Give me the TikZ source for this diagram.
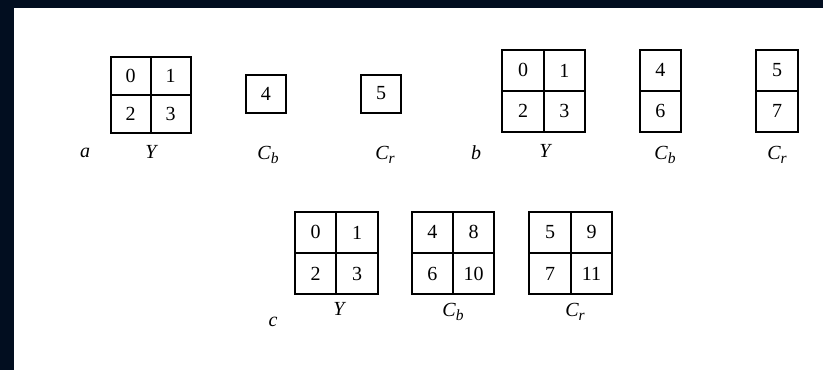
\documentclass[tikz,border=0pt]{standalone}
\usepackage{fontspec}
\setmainfont{Liberation Serif}
\definecolor{frame}{RGB}{2,14,32}
\newcommand{\sub}[2]{\textit{#1}\raisebox{-0.4ex}{\fontsize{15.5}{17}\selectfont\textit{#2}}}
\begin{document}
\begin{tikzpicture}[x=1pt,y=-1pt,
  cell/.style={draw,line width=2pt,inner sep=0pt,font=\fontsize{20}{22}\selectfont},
  lab/.style={inner sep=0pt,font=\fontsize{20}{22}\selectfont\itshape}]
\fill[frame] (0,0) rectangle (823,370);
\fill[white] (14,8) rectangle (823,370);
\useasboundingbox (0,0) rectangle (823,370);
% ---- a ----
\begin{scope}[cell/.append style={minimum width=40pt,minimum height=38pt}]
\node[cell] (aY0) at (130.7,75.7) {0};
\node[cell] (aY1) at (170.7,75.7) {1};
\node[cell] (aY2) at (130.7,113.7) {2};
\node[cell] (aY3) at (170.7,113.7) {3};
\node[cell] (aCb) at (265.9,93.5) {4};
\node[cell] (aCr) at (381.2,93.5) {5};
\end{scope}
\node[lab] (la) at (85,153) {a};
\node[lab] (laY) at (151,152) {Y};
\node[lab] (laCb) at (268,155) {\sub{C}{b}};
\node[lab] (laCr) at (385,155) {\sub{C}{r}};
% ---- b ----
\begin{scope}[cell/.append style={minimum width=41.3pt,minimum height=40.8pt}]
\node[cell] (bY0) at (523,70.4) {0};
\node[cell] (bY1) at (564.3,70.4) {1};
\node[cell] (bY2) at (523,111.2) {2};
\node[cell] (bY3) at (564.3,111.2) {3};
\end{scope}
\begin{scope}[cell/.append style={minimum width=40.7pt,minimum height=40.8pt}]
\node[cell] (bCb0) at (660.4,70.4) {4};
\node[cell] (bCb1) at (660.4,111.2) {6};
\end{scope}
\begin{scope}[cell/.append style={minimum width=42.3pt,minimum height=40.8pt}]
\node[cell] (bCr0) at (777.2,70.4) {5};
\node[cell] (bCr1) at (777.2,111.2) {7};
\end{scope}
\node[lab] (lb) at (476,153) {b};
\node[lab] (lbY) at (545,151) {Y};
\node[lab] (lbCb) at (665,155) {\sub{C}{b}};
\node[lab] (lbCr) at (777,155) {\sub{C}{r}};
% ---- c ----
\begin{scope}[cell/.append style={minimum width=41.4pt,minimum height=41.3pt}]
\node[cell] (cY0) at (315.7,232.4) {0};
\node[cell] (cY1) at (357,232.4) {1};
\node[cell] (cY2) at (315.7,273.7) {2};
\node[cell] (cY3) at (357,273.7) {3};
\node[cell] (cCb0) at (432.4,232.4) {4};
\node[cell] (cCb1) at (473.6,232.4) {8};
\node[cell] (cCb2) at (432.4,273.7) {6};
\node[cell] (cCb3) at (473.6,273.7) {10};
\node[cell] (cCr0) at (550,232.4) {5};
\node[cell] (cCr1) at (591.5,232.4) {9};
\node[cell] (cCr2) at (550,273.7) {7};
\node[cell] (cCr3) at (591.5,273.7) {11};
\end{scope}
\node[lab] (lc) at (273,322) {c};
\node[lab] (lcY) at (339,309) {Y};
\node[lab] (lcCb) at (453,312) {\sub{C}{b}};
\node[lab] (lcCr) at (575,312) {\sub{C}{r}};
\end{tikzpicture}
\end{document}
